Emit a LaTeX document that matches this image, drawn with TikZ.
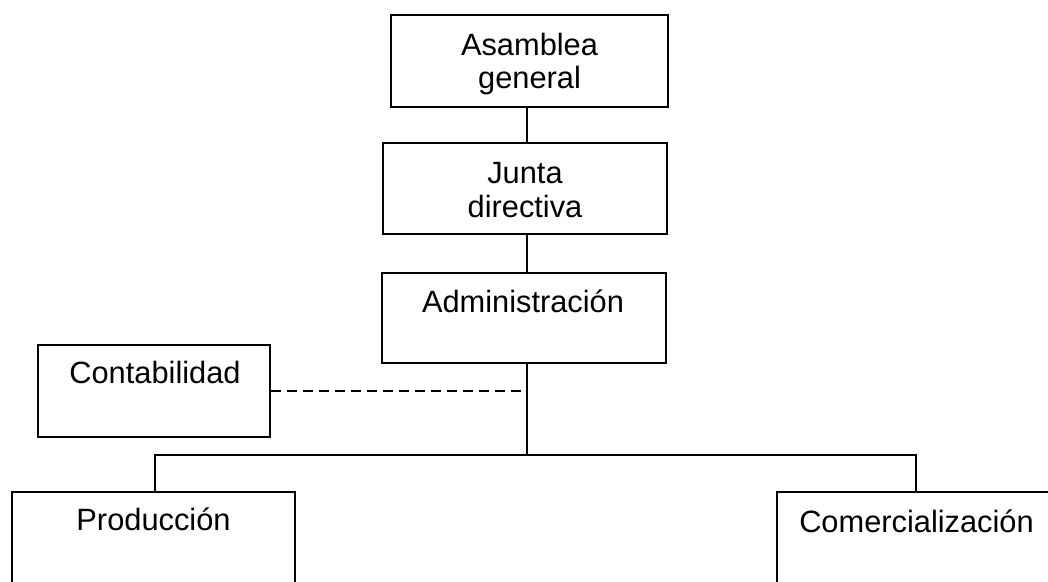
\documentclass[tikz,border=0pt]{standalone}
\usepackage{fontspec}
\setmainfont{Liberation Sans}
\begin{document}
\begin{tikzpicture}[x=1pt,y=-1pt,
  box/.style={draw,line width=1.1pt,rectangle,inner sep=0pt},
  lbl/.style={anchor=base,inner sep=0pt,font=\fontsize{30.8}{33}\selectfont},
  conn/.style={line width=1.1pt}]
\useasboundingbox (0,0) rectangle (1048,581);
\clip (0,0) rectangle (1048,581);
% boxes (centre, size)
\node[box,minimum width=277pt,minimum height=92pt] (asam) at (529.5,61) {};
\node[box,minimum width=284pt,minimum height=91pt] (junta) at (525,188.5) {};
\node[box,minimum width=284pt,minimum height=90pt] (admin) at (524,318) {};
\node[box,minimum width=232pt,minimum height=92pt] (conta) at (154,391) {};
\node[box,minimum width=283pt,minimum height=110pt] (prod) at (153.5,547) {};
\node[box,minimum width=278pt,minimum height=110pt] (comer) at (916,547) {};
% texts
\node[lbl] (tasam1) at (529.5,55) {Asamblea};
\node[lbl] (tasam2) at (529.5,88) {general};
\node[lbl] (tjunta1) at (525,183) {Junta};
\node[lbl] (tjunta2) at (525,217) {directiva};
\node[lbl] (tadmin) at (523,312) {Administración};
\node[lbl] (tconta) at (155,383) {Contabilidad};
\node[lbl] (tprod) at (153.5,530) {Producción};
\node[lbl] (tcomer) at (916.5,532) {Comercialización};
% connectors
\coordinate (spine) at (527,0);
\coordinate (bus) at (527,455);
\draw[conn] (asam.south -| spine) -- (junta.north -| spine);
\draw[conn] (junta.south -| spine) -- (admin.north -| spine);
\draw[conn] (admin.south -| spine) -- (bus);
\draw[conn,dash pattern=on 10pt off 6pt] (conta.east) -- (conta.east -| spine);
\draw[conn] (prod.north -| 155,0) -- (155,455) -- (916,455) -- (comer.north -| 916,0);
\end{tikzpicture}
\end{document}
